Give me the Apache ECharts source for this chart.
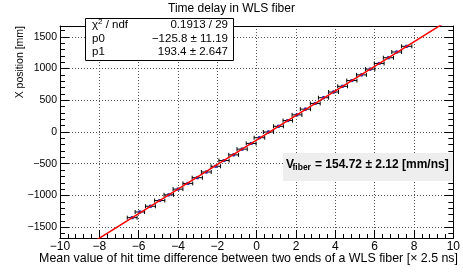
<!DOCTYPE html>
<html>
<head>
<meta charset="utf-8">
<script src="https://cdn.jsdelivr.net/npm/echarts@6/dist/echarts.min.js"></script>
<style>
  html, body { margin: 0; padding: 0; background: #fff; }
  #chart { width: 463px; height: 273px; }
</style>
</head>
<body>
<div id="chart"></div>
<script>
// mean hit time difference per fiber position [x 2.5 ns]
const timeDiff = [-6.33, -5.94, -5.40, -4.93, -4.47, -4.00, -3.50, -3.02, -2.56, -2.08, -1.66,
                  -1.17, -0.74, -0.28, 0.14, 0.60, 1.11, 1.58, 2.05, 2.48, 2.98,
                  3.40, 3.91, 4.37, 4.84, 5.33, 5.77, 6.23, 6.70, 7.12, 7.63];
const timeErr = [0.25, 0.24, 0.25, 0.26, 0.24, 0.25, 0.25, 0.26, 0.25, 0.24, 0.26,
                 0.25, 0.26, 0.25, 0.27, 0.26, 0.25, 0.24, 0.25, 0.26, 0.25,
                 0.26, 0.25, 0.25, 0.26, 0.25, 0.24, 0.25, 0.26, 0.25, 0.26];
// X position along the fiber [mm]
const position = [-1350, -1260, -1170, -1080, -990, -900, -810, -720, -630, -540, -450,
                  -360, -270, -180, -90, 0, 90, 180, 270, 360, 450,
                  540, 630, 720, 810, 900, 990, 1080, 1170, 1260, 1350];
// fitted line end points (p0 + p1*x)
const fitX = [-10, 10];
const fitY = [-2060, 1808];

const font = 'Liberation Sans, Arial, Helvetica, sans-serif';

function minus(v) {
    return String(v).replace('-', '\u2212');
}

const chart = echarts.init(document.getElementById('chart'), null, { renderer: 'canvas' });

const points = timeDiff.map((t, i) => [t, position[i], timeErr[i]]);
const fitData = fitX.map((x, i) => [x, fitY[i]]);

const option = {
    animation: false,
    grid: { left: 60, right: 5, top: 26, bottom: 35 },
    xAxis: [
        {
            type: 'value',
            min: -10,
            max: 10,
            interval: 2,
            axisLine: { onZero: false, lineStyle: { color: '#000', width: 1 } },
            axisTick: { inside: true, length: 8, lineStyle: { color: '#000' } },
            minorTick: { show: true, splitNumber: 5, length: 4, lineStyle: { color: '#000' } },
            axisLabel: {
                margin: 3, color: '#000', fontFamily: font, fontSize: 12,
                formatter: minus
            },
            splitLine: { show: true, lineStyle: { color: '#555', type: [1, 2], width: 1 } }
        },
        {
            type: 'value',
            position: 'top',
            min: -10,
            max: 10,
            interval: 2,
            axisLine: { show: true, onZero: false, lineStyle: { color: '#000', width: 1 } },
            axisTick: { show: false },
            axisLabel: { show: false },
            splitLine: { show: false }
        }
    ],
    yAxis: [
        {
            type: 'value',
            min: -1670,
            max: 1670,
            splitNumber: 7,
            axisLine: { show: true, onZero: false, lineStyle: { color: '#000', width: 1 } },
            axisTick: { inside: true, length: 9, lineStyle: { color: '#000' } },
            minorTick: { show: true, splitNumber: 5, length: 5, lineStyle: { color: '#000' } },
            axisLabel: {
                margin: 3, color: '#000', fontFamily: font, fontSize: 10.5,
                showMinLabel: false, showMaxLabel: false,
                formatter: minus
            },
            splitLine: { show: true, lineStyle: { color: '#555', type: [1, 2], width: 1 } }
        },
        {
            type: 'value',
            position: 'right',
            min: -1670,
            max: 1670,
            splitNumber: 7,
            axisLine: { show: true, onZero: false, lineStyle: { color: '#000', width: 1 } },
            axisTick: { inside: true, length: 9, lineStyle: { color: '#000' } },
            minorTick: { show: true, splitNumber: 5, length: 5, lineStyle: { color: '#000' } },
            axisLabel: { show: false },
            splitLine: { show: false }
        }
    ],
    series: [
        {
            name: 'data',
            type: 'custom',
            xAxisIndex: 0,
            yAxisIndex: 0,
            data: points,
            z: 2,
            renderItem: function (params, api) {
                const x = api.value(0);
                const y = api.value(1);
                const e = api.value(2);
                const c = api.coord([x, y]);
                const l = api.coord([x - e, y]);
                const r = api.coord([x + e, y]);
                const s = { stroke: '#000', lineWidth: 1 };
                return {
                    type: 'group',
                    children: [
                        { type: 'line', shape: { x1: l[0], y1: c[1], x2: r[0], y2: c[1] }, style: s },
                        { type: 'line', shape: { x1: l[0], y1: c[1] - 2, x2: l[0], y2: c[1] + 2 }, style: s },
                        { type: 'line', shape: { x1: r[0], y1: c[1] - 2, x2: r[0], y2: c[1] + 2 }, style: s },
                        { type: 'line', shape: { x1: c[0], y1: c[1] - 1.5, x2: c[0], y2: c[1] + 1.5 }, style: s },
                        { type: 'rect', shape: { x: c[0] - 1.5, y: c[1] - 1.5, width: 3, height: 3 }, style: { fill: '#2b2bb0' } }
                    ]
                };
            }
        },
        {
            name: 'fit',
            type: 'line',
            xAxisIndex: 0,
            yAxisIndex: 0,
            data: fitData,
            showSymbol: false,
            clip: true,
            z: 3,
            lineStyle: { color: '#ff0000', width: 1.5 }
        }
    ],
    graphic: [
        // title
        {
            type: 'text', left: 'center', top: 3,
            style: { text: 'Time delay in WLS fiber', font: '12px ' + font, fill: '#000' },
            z: 10
        },
        // y axis title
        {
            type: 'text', x: 20, y: 26, rotation: Math.PI / 2,
            style: { text: 'X position [mm]', font: '10.5px ' + font, fill: '#000', align: 'right', verticalAlign: 'middle' },
            z: 10
        },
        // x axis title
        {
            type: 'text', x: 458, y: 259,
            style: { text: 'Mean value of hit time difference between two ends of a WLS fiber [\u00d7 2.5 ns]', font: '12.4px ' + font, fill: '#000', align: 'right', verticalAlign: 'middle' },
            z: 10
        },
        // stats box
        {
            type: 'rect', shape: { x: 85.5, y: 18.5, width: 148, height: 42 },
            style: { fill: '#fff', stroke: '#000', lineWidth: 1 }, z: 20
        },
        {
            type: 'text', x: 92, y: 25, z: 21,
            style: {
                text: '{a|\u03c7}{s|2}{a| / ndf}',
                verticalAlign: 'middle',
                rich: {
                    a: { font: '11.5px ' + font, fill: '#000' },
                    s: { font: '8px ' + font, fill: '#000', verticalAlign: 'top', padding: [0, 0, 6, 0] }
                }
            }
        },
        { type: 'text', x: 92, y: 38.5, z: 21, style: { text: 'p0', font: '11.5px ' + font, fill: '#000', verticalAlign: 'middle' } },
        { type: 'text', x: 92, y: 52, z: 21, style: { text: 'p1', font: '11.5px ' + font, fill: '#000', verticalAlign: 'middle' } },
        { type: 'text', x: 228, y: 25, z: 21, style: { text: '0.1913 / 29', font: '11.5px ' + font, fill: '#000', align: 'right', verticalAlign: 'middle' } },
        { type: 'text', x: 228, y: 38.5, z: 21, style: { text: '\u2212125.8 \u00b1 11.19', font: '11.5px ' + font, fill: '#000', align: 'right', verticalAlign: 'middle' } },
        { type: 'text', x: 228, y: 52, z: 21, style: { text: '193.4 \u00b1 2.647', font: '11.5px ' + font, fill: '#000', align: 'right', verticalAlign: 'middle' } },
        // V_fiber label
        {
            type: 'rect', shape: { x: 283, y: 153, width: 170, height: 28 },
            style: { fill: '#eeeeee' }, z: 20
        },
        { type: 'text', x: 286, y: 164.5, z: 21, style: { text: 'V', font: 'bold 12px ' + font, fill: '#000', verticalAlign: 'middle' } },
        { type: 'text', x: 292.5, y: 168, z: 21, style: { text: 'fiber', font: 'bold 8.5px ' + font, fill: '#000', verticalAlign: 'middle' } },
        { type: 'text', x: 315, y: 164.5, z: 21, style: { text: '= 154.72 \u00b1 2.12 [mm/ns]', font: 'bold 12px ' + font, fill: '#000', verticalAlign: 'middle' } }
    ]
};

chart.setOption(option);
</script>
</body>
</html>
